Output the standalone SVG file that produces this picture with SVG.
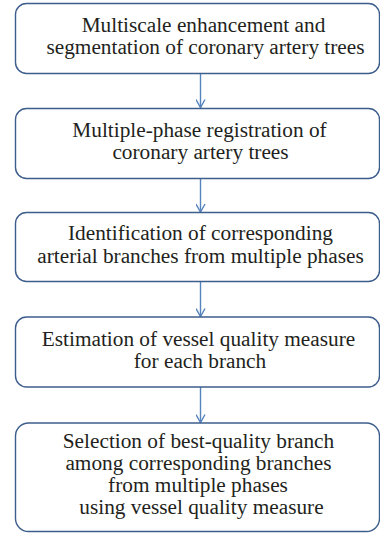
<svg xmlns="http://www.w3.org/2000/svg" width="380" height="533" viewBox="0 0 380 533">
<defs>
<style>
.box{fill:#ffffff;stroke:#3d5d8c;stroke-width:1.4}
.t{font-family:'Liberation Serif','Times New Roman',serif;font-size:21.3px;fill:#231f20;text-anchor:middle}
.c{stroke:#5583be;stroke-width:1.4;fill:none}
</style>
<marker id="ah" viewBox="0 0 10 10" refX="9" refY="5" markerWidth="10" markerHeight="10" markerUnits="userSpaceOnUse" orient="auto">
<path d="M1,0.5 L9,5 L1,9.5" fill="none" stroke="#5583be" stroke-width="1.4"/>
</marker>
</defs>
<rect width="380" height="533" fill="#ffffff"/>
<g id="connectors">
<line class="c" x1="200.5" y1="73.5" x2="200.5" y2="107.5" marker-end="url(#ah)"/>
<line class="c" x1="200.5" y1="178.5" x2="200.5" y2="212" marker-end="url(#ah)"/>
<line class="c" x1="200.5" y1="281.5" x2="200.5" y2="316.5" marker-end="url(#ah)"/>
<line class="c" x1="200.5" y1="387" x2="200.5" y2="422.5" marker-end="url(#ah)"/>
</g>
<g id="n1">
<rect class="box" x="15.5" y="3.5" width="364" height="70" rx="11"/>
<text class="t" x="203.5" y="31.5">Multiscale enhancement and</text>
<text class="t" x="205.5" y="53.5">segmentation of coronary artery trees</text>
</g>
<g id="n2">
<rect class="box" x="15.5" y="108.5" width="364" height="70" rx="11"/>
<text class="t" x="199.5" y="137">Multiple-phase registration of</text>
<text class="t" x="200.5" y="159">coronary artery trees</text>
</g>
<g id="n3">
<rect class="box" x="15.5" y="212.5" width="364" height="69" rx="11"/>
<text class="t" x="200.5" y="240">Identification of corresponding</text>
<text class="t" x="200.5" y="262.5">arterial branches from multiple phases</text>
</g>
<g id="n4">
<rect class="box" x="15.5" y="317" width="364" height="70" rx="11"/>
<text class="t" x="198.5" y="345.5">Estimation of vessel quality measure</text>
<text class="t" x="200" y="367.5">for each branch</text>
</g>
<g id="n5">
<rect class="box" x="15.5" y="423" width="364" height="108.5" rx="13"/>
<text class="t" x="198.5" y="447.5">Selection of best-quality branch</text>
<text class="t" x="198.5" y="469.5">among corresponding branches</text>
<text class="t" x="198" y="491.5">from multiple phases</text>
<text class="t" x="201.5" y="513.5">using vessel quality measure</text>
</g>
</svg>
